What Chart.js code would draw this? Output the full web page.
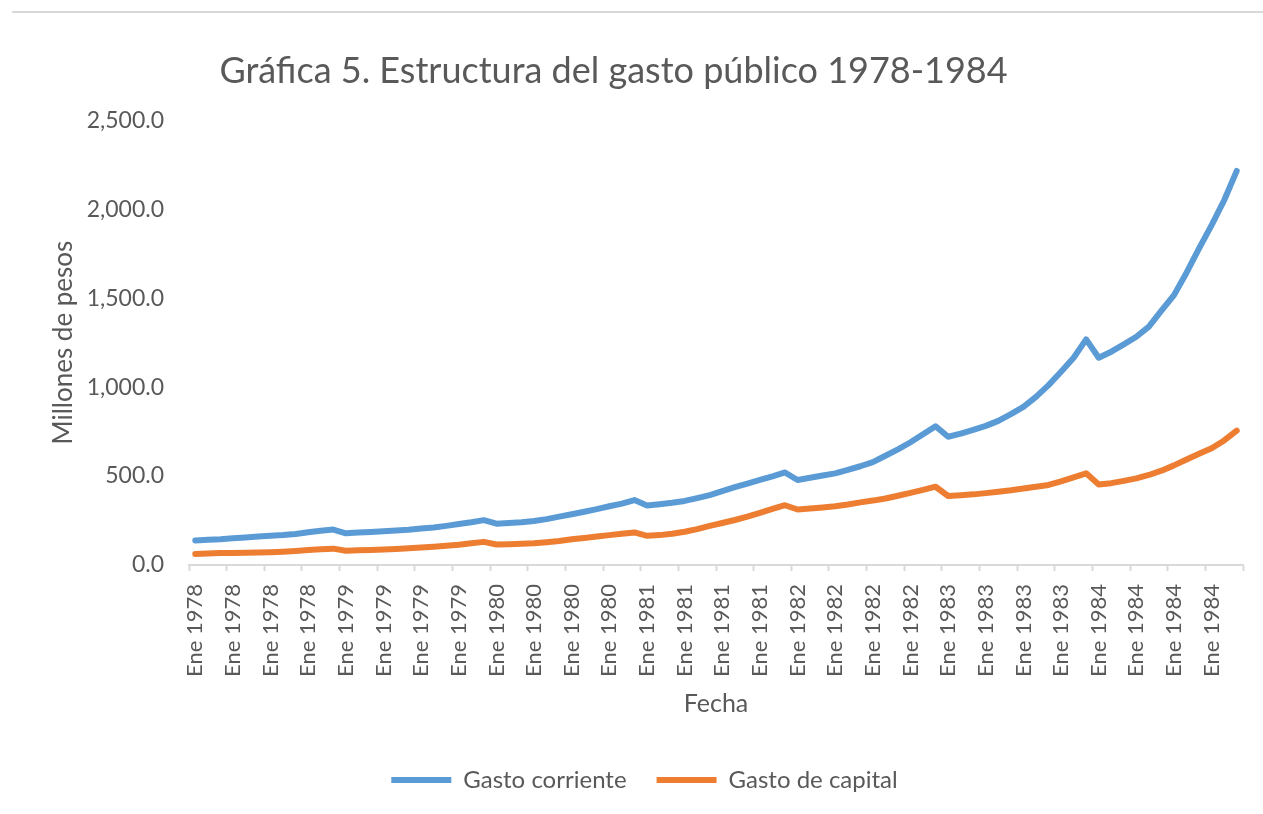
<!DOCTYPE html>
<html>
<head>
<meta charset="utf-8">
<title>Gráfica 5. Estructura del gasto público 1978-1984</title>
<script src="https://cdn.jsdelivr.net/npm/chart.js@4.4.1/dist/chart.umd.min.js"></script>
<style>
  html, body { margin: 0; padding: 0; background: #fff; }
  #wrap { position: relative; width: 1263px; height: 814px; }
  #marco { position: absolute; left: 12px; right: 0; top: 11px; height: 2px; background: #d9d9d9; }
</style>
</head>
<body>
<div id="wrap">
  <div id="marco"></div>
  <canvas id="grafica" width="1263" height="814"></canvas>
</div>
<script>
// años de la serie (12 meses cada uno); Excel rotula todas las fechas como "Ene AAAA"
const anios = [1978, 1979, 1980, 1981, 1982, 1983, 1984];
const fechas = [];
anios.forEach(a => { for (let m = 0; m < 12; m++) fechas.push('Ene ' + a); });

// millones de pesos, mensual
const gastoCorriente = [
  138, 142, 145, 150, 155, 160, 165, 168, 174, 184, 193, 199,
  178, 182, 186, 190, 194, 198, 205, 211, 220, 230, 240, 252,
  232, 236, 240, 247, 258, 272, 285, 299, 314, 330, 345, 365,
  335, 342, 350, 360, 376, 393, 415, 438, 458, 478, 498, 520,
  478, 490, 503, 515, 535, 555, 578, 614, 650, 690, 735, 780,
  721, 738, 760, 782, 810, 848, 889, 945, 1011, 1086, 1165, 1268,
  1165, 1199, 1240, 1283, 1340, 1430, 1517, 1643, 1780, 1910, 2050, 2215
];
const gastoCapital = [
  62, 64, 67, 68, 69, 70, 72, 75, 79, 84, 89, 92,
  80, 83, 85, 87, 90, 94, 99, 103, 108, 114, 122, 130,
  115, 117, 119, 122, 128, 135, 145, 152, 160, 168, 176, 183,
  164, 168, 176, 187, 202, 220, 236, 253, 272, 293, 315, 336,
  312, 317, 323, 330, 340, 352, 362, 374, 389, 405, 422, 440,
  388, 392, 397, 404, 412, 420, 430, 440, 450, 470, 492, 515,
  453, 460, 473, 487, 506, 530, 560, 593, 625, 656, 700, 755
];

const yTicks = { min: 0, max: 2500, step: 500 };
const gris = '#595959';
const fuente = 'Lato, "Open Sans", sans-serif';

// el título de Excel no está centrado sobre el área del gráfico
const moverTitulo = {
  id: 'moverTitulo',
  afterLayout(chart) {
    chart.titleBlock.left -= 31;
    chart.titleBlock.right -= 31;
  }
};

new Chart(document.getElementById('grafica'), {
  type: 'line',
  data: {
    labels: fechas,
    datasets: [
      {
        label: 'Gasto corriente',
        data: gastoCorriente,
        borderColor: '#5b9bd5',
        backgroundColor: '#5b9bd5',
        borderWidth: 6,
        borderCapStyle: 'round',
        borderJoinStyle: 'round',
        pointRadius: 0,
        tension: 0
      },
      {
        label: 'Gasto de capital',
        data: gastoCapital,
        borderColor: '#ed7d31',
        backgroundColor: '#ed7d31',
        borderWidth: 6,
        borderCapStyle: 'round',
        borderJoinStyle: 'round',
        pointRadius: 0,
        tension: 0
      }
    ]
  },
  options: {
    responsive: false,
    animation: false,
    layout: { padding: { top: 36, left: 46, right: 20, bottom: 12 } },
    plugins: {
      title: {
        display: true,
        text: 'Gráfica 5. Estructura del gasto público 1978-1984',
        color: gris,
        font: { family: fuente, size: 36, weight: 'normal' },
        padding: { top: 14, bottom: 27 }
      },
      legend: {
        position: 'bottom',
        labels: {
          color: gris,
          font: { family: fuente, size: 24 },
          usePointStyle: true,
          pointStyle: 'line',
          pointStyleWidth: 60,
          padding: 30
        }
      },
      tooltip: { enabled: false }
    },
    scales: {
      x: {
        offset: true,
        afterFit: s => { s.height = 173; s.paddingRight = 0; },
        grid: {
          offset: true,
          drawOnChartArea: false,
          tickLength: 6,
          tickWidth: 2,
          tickColor: ctx => (ctx.index === undefined || ctx.index % 3 === 0) ? '#d9d9d9' : 'rgba(0,0,0,0)'
        },
        border: { display: true, color: '#d9d9d9', width: 2 },
        ticks: {
          autoSkip: false,
          maxRotation: 90,
          minRotation: 90,
          padding: 13,
          color: gris,
          font: { family: fuente, size: 22 },
          callback: (v, i) => i % 3 === 0 ? fechas[i] : ''
        },
        title: {
          display: true,
          text: 'Fecha',
          color: gris,
          font: { family: fuente, size: 25 },
          padding: { top: 4, bottom: 19 }
        }
      },
      y: {
        min: yTicks.min,
        max: yTicks.max,
        afterFit: s => { s.width = 143; },
        grid: { display: false },
        border: { display: false },
        ticks: {
          stepSize: yTicks.step,
          padding: 17,
          color: gris,
          font: { family: fuente, size: 23 },
          callback: v => v.toLocaleString('en-US', { minimumFractionDigits: 1, maximumFractionDigits: 1 })
        },
        title: {
          display: true,
          text: 'Millones de pesos',
          color: gris,
          font: { family: fuente, size: 26 },
          padding: { top: 2, bottom: 4 }
        }
      }
    }
  },
  plugins: [moverTitulo]
});
</script>
</body>
</html>
